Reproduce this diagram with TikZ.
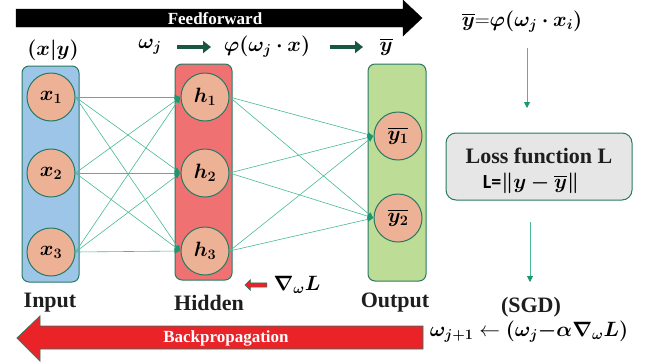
\documentclass[tikz,border=0pt]{standalone}
\usepackage{amsmath}
\usepackage{bm}
\usepackage{fontspec}
\setmainfont{Liberation Serif}
\newfontfamily\calibfont{Carlito}
\usetikzlibrary{arrows.meta,shapes.arrows}
\definecolor{tealb}{RGB}{38,122,100}
\definecolor{connc}{RGB}{72,184,150}
\definecolor{tipc}{RGB}{26,150,112}
\definecolor{inblue}{RGB}{157,197,232}
\definecolor{hidred}{RGB}{240,113,113}
\definecolor{outgreen}{RGB}{189,220,150}
\definecolor{peach}{RGB}{237,177,150}
\definecolor{lossgrey}{RGB}{231,230,230}
\definecolor{arrred}{RGB}{234,35,40}
\definecolor{fatgreen}{RGB}{24,88,64}
\definecolor{txt}{RGB}{30,30,30}
\begin{document}
\begin{tikzpicture}[x=1pt,y=-1pt,
  layerbox/.style={draw=tealb,line width=1pt,rounded corners=7pt,inner sep=0pt},
  neuron/.style={circle,draw=tealb,line width=1pt,fill=peach,minimum size=48pt,inner sep=0pt,
    font=\fontsize{20}{24}\selectfont,text=black},
  conn/.style={draw=connc,line width=0.6pt,-{Latex[length=6pt,width=5pt,color=tipc]}},
  lbl/.style={font=\fontsize{22}{26}\selectfont\bfseries,text=txt,inner sep=0pt},
  mth/.style={font=\fontsize{20}{24}\selectfont,text=black,inner sep=1pt},
  bigmth/.style={font=\fontsize{21.5}{25}\selectfont,text=black,inner sep=1pt},
  fatarrow/.style={draw=fatgreen,line width=3.5pt,-{Triangle[length=8pt,width=12pt]}},
  vertarrow/.style={draw=connc,line width=0.9pt,-{Triangle[length=6pt,width=6pt,color=tipc]}},
  bannertext/.style={font=\fontsize{17}{20}\selectfont\bfseries,text=white,inner sep=0pt}
]
\useasboundingbox (0,0) rectangle (652,362);

% Feedforward arrow
\draw[fill=black,draw=black] (16,9) -- (403,9) -- (403,0) -- (422,18) -- (403,36) -- (403,27) -- (16,27) -- cycle;
\node[bannertext] (ff) at (215,18.5) {Feedforward};

% Backpropagation arrow
\draw[fill=arrred,draw=tealb,line width=0.8pt] (423,326) -- (40,326) -- (40,316) -- (17,338) -- (40,361) -- (40,349) -- (423,349) -- cycle;
\node[bannertext] (bp) at (226,338) {Backpropagation};

% layer boxes
\node[layerbox,fill=inblue,minimum width=57pt,minimum height=216pt] (inbox) at (50.5,174) {};
\node[layerbox,fill=hidred,minimum width=57pt,minimum height=216pt] (hidbox) at (203.5,172) {};
\node[layerbox,fill=outgreen,minimum width=58pt,minimum height=217pt] (outbox) at (397,172.5) {};

% neurons
\node[neuron] (x1) at (51,97) {$\bm{x_1}$};
\node[neuron] (x2) at (51,173) {$\bm{x_2}$};
\node[neuron] (x3) at (51,252) {$\bm{x_3}$};
\node[neuron] (h1) at (205,97) {$\bm{h_1}$};
\node[neuron] (h2) at (205,173) {$\bm{h_2}$};
\node[neuron] (h3) at (205,251) {$\bm{h_3}$};
\node[neuron] (y1) at (398,136) {$\bm{\overline{y_1}}$};
\node[neuron] (y2) at (398,218) {$\bm{\overline{y_2}}$};

\foreach \i in {1,2,3}{\foreach \j in {1,2,3}{\draw[conn] (x\i.east) -- (h\j.west);}}
\foreach \i in {1,2,3}{\foreach \j in {1,2}{\draw[conn] (h\i.east) -- (y\j.west);}}

% top formula row
\node[bigmth] (xy) at (53,50) {$\bm{(x|y)}$};
\node[bigmth] (om) at (150,47) {$\bm{\omega_j}$};
\node[bigmth] (phi) at (267,47) {$\bm{\varphi(\omega_j\cdot x)}$};
\node[bigmth] (yb) at (386,47) {$\bm{\overline{y}}$};
\draw[fatarrow] (177,47) -- (211,47);
\draw[fatarrow] (330,47) -- (363,47);

% layer labels
\node[lbl] (lin) at (50,303) {Input};
\node[lbl] (lhid) at (209,303) {Hidden};
\node[lbl] (lout) at (395,303) {Output};

% gradient small arrow
\node[single arrow,shape border rotate=180,fill=arrred,draw=tealb,line width=0.5pt,
  minimum height=22pt,minimum width=11pt,inner sep=1.5pt,single arrow head extend=3pt] (garr) at (257,285) {};
\node[mth] (grad) at (297,285) {$\bm{\nabla_{\omega}L}$};

% right column
\node[mth] (yform) at (522,22) {$\bm{\overline{y}}\mathbf{=}\bm{\varphi(\omega_j\cdot x_i)}$};
\node[layerbox,fill=lossgrey,rounded corners=10pt,minimum width=186pt,minimum height=67pt] (loss) at (539,166.5) {};
\node[lbl] (losst) at (539,156) {Loss function L};
\node[mth] (lossf) at (531,183) {{\calibfont\bfseries L=}$\bm{\|y-\overline{y}\|}$};
\node[lbl] (sgd) at (531,307) {(SGD)};
\node[mth] (upd) at (529,332) {$\bm{\omega_{j+1}}\leftarrow\bm{(\omega_j{-}\alpha\nabla_{\omega}L)}$};

\draw[vertarrow] (527,48) -- (527,108);
\draw[vertarrow] (530,222) -- (530,282);
\end{tikzpicture}
\end{document}
